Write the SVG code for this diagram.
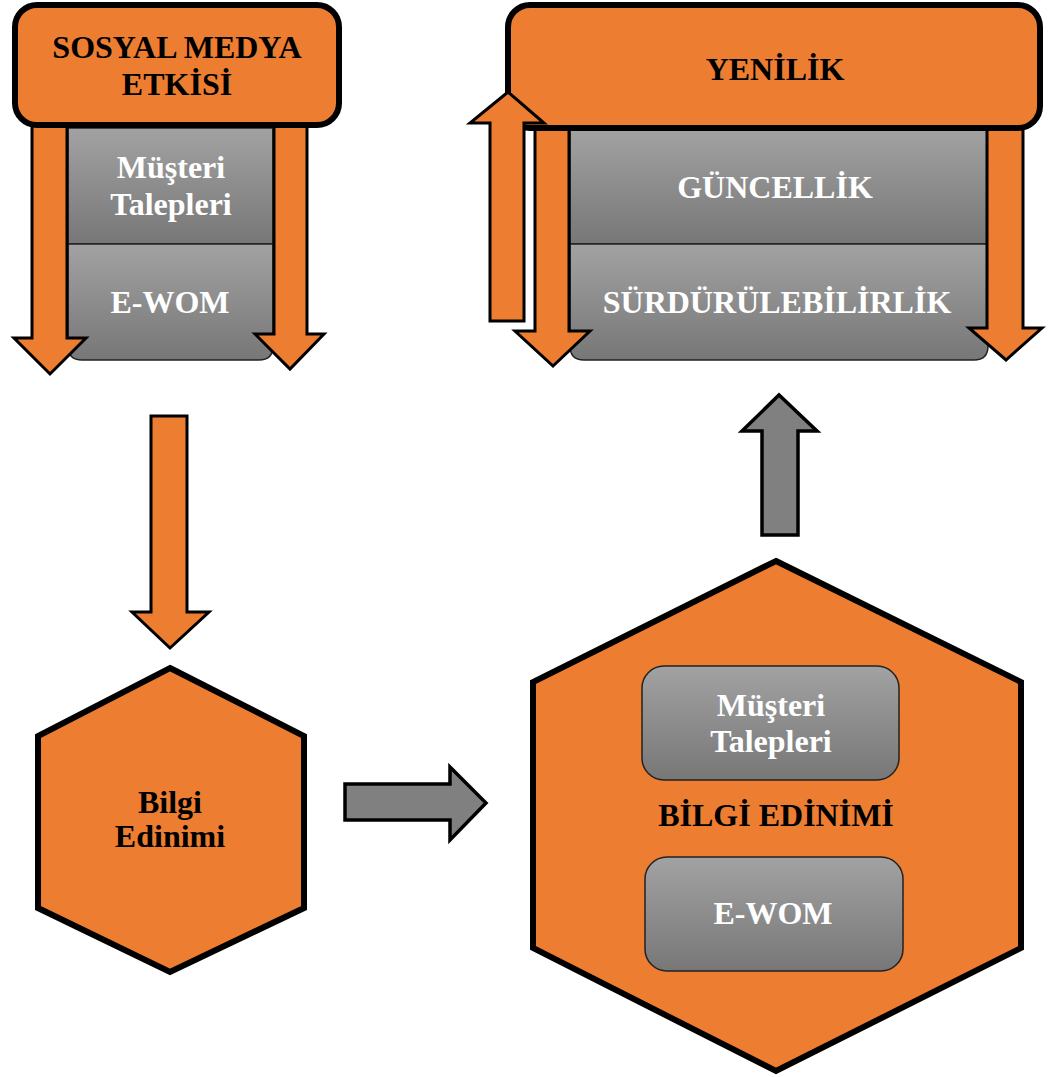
<svg xmlns="http://www.w3.org/2000/svg" width="1053" height="1077" viewBox="0 0 1053 1077">
  <defs>
    <linearGradient id="gray" x1="0" y1="0" x2="0" y2="1">
      <stop offset="0" stop-color="#a2a2a2"/>
      <stop offset="1" stop-color="#777777"/>
    </linearGradient>
    <style>
      .orange { fill: #ED7D31; stroke: #000; stroke-width: 3; stroke-linejoin: miter; }
      .head { fill: #ED7D31; stroke: #000; stroke-width: 6; stroke-linejoin: round; }
      .hex { fill: #ED7D31; stroke: #000; stroke-width: 6; stroke-linejoin: miter; }
      .panel { fill: url(#gray); stroke: #222; stroke-width: 1.5; }
      .garrow { fill: #808080; stroke: #000; stroke-width: 3.5; stroke-linejoin: miter; }
      .t { font-family: "Liberation Serif", "Times New Roman", serif; font-weight: bold; font-size: 32px; text-anchor: middle; }
      .dark { fill: #000; }
      .light { fill: #fff; }
    </style>
  </defs>

  <!-- Social media block -->
  <g id="sosyal-medya">
    <path class="panel" d="M68,128 H273 V244 H68 Z"/>
    <path class="panel" d="M68,244 H273 V346 Q273,360 259,360 H82 Q68,360 68,346 Z"/>
    <path class="orange" d="M32,125 H67 V338 H86 L50,374 L14,338 H32 Z"/>
    <path class="orange" d="M274,125 H307 V334 H324 L290,369 L255,334 H274 Z"/>
    <rect class="head" x="15" y="5" width="324" height="120" rx="22"/>
    <text class="t dark" x="177" y="58">SOSYAL MEDYA</text>
    <text class="t dark" x="177" y="95">ETKİSİ</text>
    <text class="t light" x="171" y="178">Müşteri</text>
    <text class="t light" x="171" y="215">Talepleri</text>
    <text class="t light" x="170" y="313">E-WOM</text>
  </g>

  <!-- Innovation block -->
  <g id="yenilik">
    <path class="panel" d="M570,128 H988 V244 H570 Z"/>
    <path class="panel" d="M570,244 H988 V346 Q988,360 974,360 H584 Q570,360 570,346 Z"/>
    <path class="orange" d="M535,128 H569 V331 H590 L553,366 L515,331 H535 Z"/>
    <path class="orange" d="M987,128 H1023 V328 H1042 L1006,360 L969,328 H987 Z"/>
    <rect class="head" x="508" y="5" width="532" height="123" rx="22"/>
    <path class="orange" d="M490,321 V123 H470 L508,92 L544,123 H524 V321 Z"/>
    <text class="t dark" x="775" y="80">YENİLİK</text>
    <text class="t light" x="775" y="198">GÜNCELLİK</text>
    <text class="t light" x="777" y="313">SÜRDÜRÜLEBİLİRLİK</text>
  </g>

  <!-- Small knowledge hexagon -->
  <g id="bilgi-edinimi">
    <polygon class="hex" points="170,668 304,736 304,908 170,972 38,908 38,736"/>
    <text class="t dark" x="170" y="813">Bilgi</text>
    <text class="t dark" x="170" y="847">Edinimi</text>
  </g>

  <!-- Large knowledge hexagon -->
  <g id="bilgi-edinimi-detay">
    <polygon class="hex" points="776,561 1021,682 1021,948 776,1071 533,948 533,682"/>
    <rect class="panel" x="642" y="666" width="257" height="114" rx="22"/>
    <rect class="panel" x="645" y="857" width="258" height="114" rx="22"/>
    <text class="t light" x="771" y="716">Müşteri</text>
    <text class="t light" x="771" y="752">Talepleri</text>
    <text class="t dark" x="776" y="826">BİLGİ EDİNİMİ</text>
    <text class="t light" x="773" y="924">E-WOM</text>
  </g>

  <!-- Connectors -->
  <g id="connectors">
    <path class="orange" d="M151,416 H187 V612 H209 L170,648 L132,612 H151 Z"/>
    <path class="garrow" d="M345,784 H450 V767 L486,803 L450,840 V820 H345 Z"/>
    <path class="garrow" d="M762,535 V431 H742 L779,395 L817,431 H798 V535 Z"/>
  </g>
</svg>
